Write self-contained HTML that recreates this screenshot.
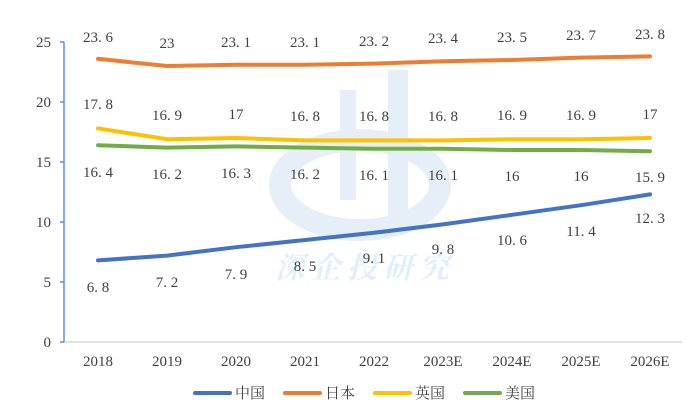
<!DOCTYPE html>
<html><head><meta charset="utf-8"><style>
body{margin:0;background:#fff}
svg text{font-family:"Liberation Serif","Noto Serif CJK SC",serif;font-size:15px;fill:#404040}
</style></head><body>
<svg width="700" height="415" viewBox="0 0 700 415" xmlns="http://www.w3.org/2000/svg">
<g opacity="0.25">
<ellipse cx="360" cy="185" rx="80" ry="45" fill="none" stroke="#9fc3e6" stroke-width="22"/>
<rect x="388" y="70" width="20" height="150" fill="#9fc3e6"/>
<rect x="340" y="90" width="16" height="110" fill="#9fc3e6"/>
<text x="365" y="278" text-anchor="middle" style="font-size:30px;fill:#7fc6f0;font-weight:bold;letter-spacing:6px;font-style:italic">深企投研究</text>
</g>
<line x1="64" y1="342" x2="682" y2="342" stroke="#d9d9d9" stroke-width="1.5"/>
<line x1="64" y1="42" x2="64" y2="342" stroke="#5b8fe0" stroke-width="1.5"/>
<g stroke="#5b8fe0" stroke-width="1.5">
<line x1="60" y1="42" x2="64" y2="42"/><line x1="60" y1="102" x2="64" y2="102"/><line x1="60" y1="162" x2="64" y2="162"/><line x1="60" y1="222" x2="64" y2="222"/><line x1="60" y1="282" x2="64" y2="282"/><line x1="60" y1="342" x2="64" y2="342"/>
</g>
<g text-anchor="end">
<text x="51" y="47">25</text><text x="51" y="107">20</text><text x="51" y="167">15</text><text x="51" y="227">10</text><text x="51" y="287">5</text><text x="51" y="347">0</text>
</g>
<g text-anchor="middle">
<text x="98" y="366">2018</text><text x="167" y="366">2019</text><text x="236" y="366">2020</text><text x="305" y="366">2021</text><text x="374" y="366">2022</text><text x="443" y="366">2023E</text><text x="512" y="366">2024E</text><text x="581" y="366">2025E</text><text x="650" y="366">2026E</text>
</g>
<g fill="none" stroke-width="4" stroke-linecap="round" stroke-linejoin="round">
<polyline stroke="#ed7d31" points="98,58.8 167,66 236,64.8 305,64.8 374,63.6 443,61.2 512,60 581,57.6 650,56.4"/>
<polyline stroke="#ffc000" points="98,128.4 167,139.2 236,138 305,140.4 374,140.4 443,140.4 512,139.2 581,139.2 650,138"/>
<polyline stroke="#70ad47" points="98,145.2 167,147.6 236,146.4 305,147.6 374,148.8 443,148.8 512,150 581,150 650,151.2"/>
<polyline stroke="#4472c4" points="98,260.4 167,255.6 236,247.2 305,240 374,232.8 443,224.4 512,214.8 581,205.2 650,194.4"/>
</g>
<g text-anchor="middle">
<text x="98" y="42">23. 6</text><text x="167" y="48">23</text><text x="236" y="47">23. 1</text><text x="305" y="47">23. 1</text><text x="374" y="46">23. 2</text><text x="443" y="43">23. 4</text><text x="512" y="42">23. 5</text><text x="581" y="40">23. 7</text><text x="650" y="39">23. 8</text>
<text x="98" y="109">17. 8</text><text x="167" y="120">16. 9</text><text x="236" y="119">17</text><text x="305" y="121">16. 8</text><text x="374" y="121">16. 8</text><text x="443" y="121">16. 8</text><text x="512" y="120">16. 9</text><text x="581" y="120">16. 9</text><text x="650" y="119">17</text>
<text x="98" y="177">16. 4</text><text x="167" y="179">16. 2</text><text x="236" y="178">16. 3</text><text x="305" y="179">16. 2</text><text x="374" y="180">16. 1</text><text x="443" y="180">16. 1</text><text x="512" y="181">16</text><text x="581" y="181">16</text><text x="650" y="182">15. 9</text>
<text x="98" y="292">6. 8</text><text x="167" y="287">7. 2</text><text x="236" y="279">7. 9</text><text x="305" y="271">8. 5</text><text x="374" y="263">9. 1</text><text x="443" y="254">9. 8</text><text x="512" y="245">10. 6</text><text x="581" y="236">11. 4</text><text x="650" y="223">12. 3</text>
</g>
<g stroke-width="4" stroke-linecap="round">
<line x1="195" y1="393" x2="230" y2="393" stroke="#4472c4"/>
<line x1="285" y1="393" x2="320" y2="393" stroke="#ed7d31"/>
<line x1="375" y1="393" x2="410" y2="393" stroke="#ffc000"/>
<line x1="465" y1="393" x2="500" y2="393" stroke="#70ad47"/>
</g>
<text x="235" y="398">中国</text><text x="325" y="398">日本</text><text x="415" y="398">英国</text><text x="505" y="398">美国</text>
</svg>
</body></html>
